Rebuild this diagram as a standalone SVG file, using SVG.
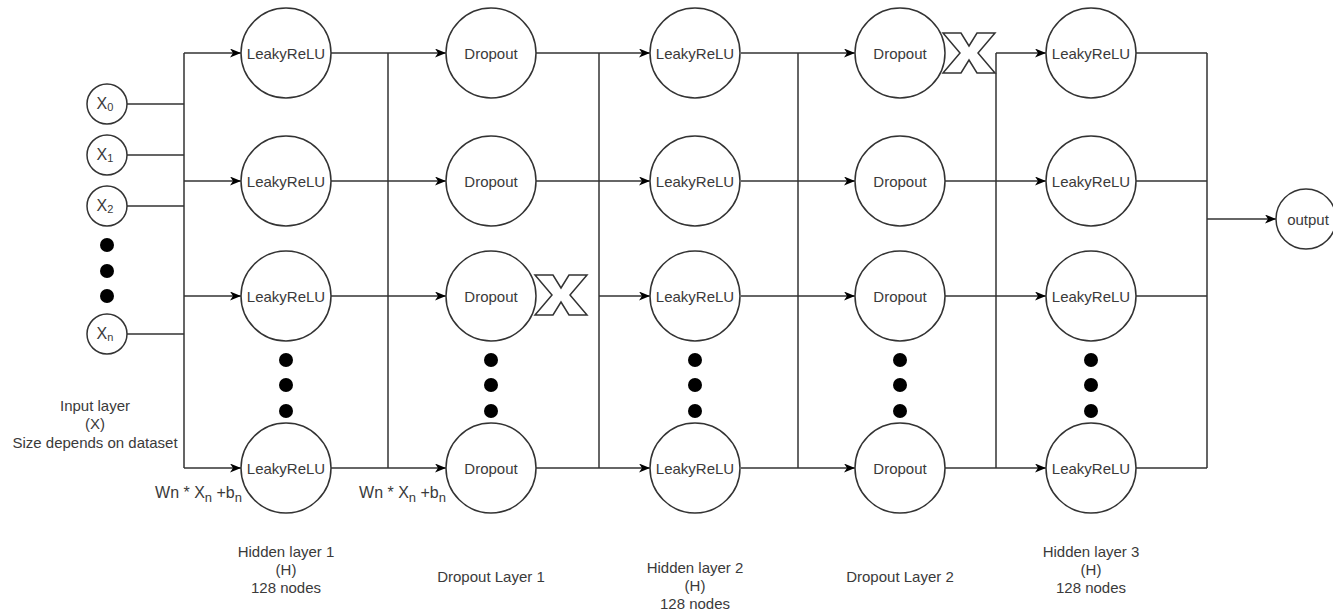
<svg xmlns="http://www.w3.org/2000/svg" width="1333" height="616" viewBox="0 0 1333 616">
  <style>
    .wire { fill: none; stroke: #333; stroke-width: 1.5; }
    .arrow { fill: none; stroke: #333; stroke-width: 1.5; marker-end: url(#head); }
    .node { fill: #fff; stroke: #333; stroke-width: 1.5; }
    .dot { fill: #000; }
    .cross { fill: #fff; stroke: #333; stroke-width: 1.5; stroke-linejoin: miter; }
    text { font-family: "Liberation Sans", Arial, sans-serif; font-size: 15px; fill: #3a3a3a; }
    .c { text-anchor: middle; dominant-baseline: central; }
    .m { text-anchor: middle; }
    .sub { font-size: 11px; }
    .eq { font-size: 16px; }
    .eq .sub { font-size: 13px; }
    .xin { font-size: 16px; }
  </style>
  <defs>
    <marker id="head" markerUnits="userSpaceOnUse" markerWidth="12" markerHeight="10" refX="11" refY="4.5" orient="auto">
      <path d="M0,0 L11,4.5 L0,9 L3,4.5 Z" fill="#000"/>
    </marker>
    <!-- hollow "X" used to mark a dropped connection -->
    <polygon id="xmark" points="0,0 18,0 26,13 34,0 52,0 35,20 52,40 34,40 26,27 18,40 0,40 17,20"/>
    <circle id="hid" r="45"/>
  </defs>

  <!-- connectors -->
  <g id="connectors">
    <!-- inputs to first bus -->
    <path class="wire" d="M127,104 H184 M127,155 H184 M127,206 H184 M127,334 H184 M184,53 V468"/>
    <path class="arrow" d="M184,53 H241"/>
    <path class="arrow" d="M184,181 H241"/>
    <path class="arrow" d="M184,296 H241"/>
    <path class="arrow" d="M184,468 H241"/>

    <!-- hidden layer 1 to dropout layer 1 -->
    <path class="wire" d="M388,53 V468"/>
    <path class="arrow" d="M331,53 H446"/>
    <path class="arrow" d="M331,181 H446"/>
    <path class="arrow" d="M331,296 H446"/>
    <path class="arrow" d="M331,468 H446"/>

    <!-- dropout layer 1 to hidden layer 2 -->
    <path class="wire" d="M599,53 V468"/>
    <path class="arrow" d="M536,53 H650"/>
    <path class="arrow" d="M536,181 H650"/>
    <path class="arrow" d="M599,296 H650"/>
    <path class="arrow" d="M536,468 H650"/>

    <!-- hidden layer 2 to dropout layer 2 -->
    <path class="wire" d="M798,53 V468"/>
    <path class="arrow" d="M741,53 H855"/>
    <path class="arrow" d="M741,181 H855"/>
    <path class="arrow" d="M741,296 H855"/>
    <path class="arrow" d="M741,468 H855"/>

    <!-- dropout layer 2 to hidden layer 3 -->
    <path class="wire" d="M996,53 V468"/>
    <path class="arrow" d="M996,53 H1046"/>
    <path class="arrow" d="M945,181 H1046"/>
    <path class="arrow" d="M945,296 H1046"/>
    <path class="arrow" d="M945,468 H1046"/>

    <!-- hidden layer 3 to output -->
    <path class="wire" d="M1136,53 H1207 M1136,181 H1207 M1136,296 H1207 M1136,468 H1207 M1207,53 V468"/>
    <path class="arrow" d="M1207,219 H1276"/>
  </g>

  <!-- input layer -->
  <g id="input-layer">
    <g id="x0"><circle class="node" cx="107" cy="104" r="20"/><text class="c xin" x="105" y="103">X<tspan class="sub" dy="4">0</tspan></text></g>
    <g id="x1"><circle class="node" cx="107" cy="155" r="20"/><text class="c xin" x="105" y="154">X<tspan class="sub" dy="4">1</tspan></text></g>
    <g id="x2"><circle class="node" cx="107" cy="206" r="20"/><text class="c xin" x="105" y="205">X<tspan class="sub" dy="4">2</tspan></text></g>
    <circle class="dot" cx="107" cy="245" r="7"/>
    <circle class="dot" cx="107" cy="271" r="7"/>
    <circle class="dot" cx="107" cy="296" r="7"/>
    <g id="xn"><circle class="node" cx="107" cy="334" r="20"/><text class="c xin" x="105" y="333">X<tspan class="sub" dy="4">n</tspan></text></g>
  </g>

  <!-- hidden layer 1 -->
  <g id="hidden-1">
    <g id="h1-a"><use href="#hid" class="node" x="286" y="53"/><text class="c" x="286" y="53">LeakyReLU</text></g>
    <g id="h1-b"><use href="#hid" class="node" x="286" y="181"/><text class="c" x="286" y="181">LeakyReLU</text></g>
    <g id="h1-c"><use href="#hid" class="node" x="286" y="296"/><text class="c" x="286" y="296">LeakyReLU</text></g>
    <circle class="dot" cx="286" cy="360" r="7"/>
    <circle class="dot" cx="286" cy="385" r="7"/>
    <circle class="dot" cx="286" cy="411" r="7"/>
    <g id="h1-n"><use href="#hid" class="node" x="286" y="468"/><text class="c" x="286" y="468">LeakyReLU</text></g>
  </g>

  <!-- dropout layer 1 -->
  <g id="dropout-1">
    <g id="d1-a"><use href="#hid" class="node" x="491" y="53"/><text class="c" x="491" y="53">Dropout</text></g>
    <g id="d1-b"><use href="#hid" class="node" x="491" y="181"/><text class="c" x="491" y="181">Dropout</text></g>
    <g id="d1-c"><use href="#hid" class="node" x="491" y="296"/><text class="c" x="491" y="296">Dropout</text></g>
    <use id="d1-cut" href="#xmark" class="cross" x="535" y="275"/>
    <circle class="dot" cx="491" cy="360" r="7"/>
    <circle class="dot" cx="491" cy="385" r="7"/>
    <circle class="dot" cx="491" cy="411" r="7"/>
    <g id="d1-n"><use href="#hid" class="node" x="491" y="468"/><text class="c" x="491" y="468">Dropout</text></g>
  </g>

  <!-- hidden layer 2 -->
  <g id="hidden-2">
    <g id="h2-a"><use href="#hid" class="node" x="695" y="53"/><text class="c" x="695" y="53">LeakyReLU</text></g>
    <g id="h2-b"><use href="#hid" class="node" x="695" y="181"/><text class="c" x="695" y="181">LeakyReLU</text></g>
    <g id="h2-c"><use href="#hid" class="node" x="695" y="296"/><text class="c" x="695" y="296">LeakyReLU</text></g>
    <circle class="dot" cx="695" cy="360" r="7"/>
    <circle class="dot" cx="695" cy="385" r="7"/>
    <circle class="dot" cx="695" cy="411" r="7"/>
    <g id="h2-n"><use href="#hid" class="node" x="695" y="468"/><text class="c" x="695" y="468">LeakyReLU</text></g>
  </g>

  <!-- dropout layer 2 -->
  <g id="dropout-2">
    <g id="d2-a"><use href="#hid" class="node" x="900" y="53"/><text class="c" x="900" y="53">Dropout</text></g>
    <use id="d2-cut" href="#xmark" class="cross" x="943" y="33"/>
    <g id="d2-b"><use href="#hid" class="node" x="900" y="181"/><text class="c" x="900" y="181">Dropout</text></g>
    <g id="d2-c"><use href="#hid" class="node" x="900" y="296"/><text class="c" x="900" y="296">Dropout</text></g>
    <circle class="dot" cx="900" cy="360" r="7"/>
    <circle class="dot" cx="900" cy="385" r="7"/>
    <circle class="dot" cx="900" cy="411" r="7"/>
    <g id="d2-n"><use href="#hid" class="node" x="900" y="468"/><text class="c" x="900" y="468">Dropout</text></g>
  </g>

  <!-- hidden layer 3 -->
  <g id="hidden-3">
    <g id="h3-a"><use href="#hid" class="node" x="1091" y="53"/><text class="c" x="1091" y="53">LeakyReLU</text></g>
    <g id="h3-b"><use href="#hid" class="node" x="1091" y="181"/><text class="c" x="1091" y="181">LeakyReLU</text></g>
    <g id="h3-c"><use href="#hid" class="node" x="1091" y="296"/><text class="c" x="1091" y="296">LeakyReLU</text></g>
    <circle class="dot" cx="1091" cy="360" r="7"/>
    <circle class="dot" cx="1091" cy="385" r="7"/>
    <circle class="dot" cx="1091" cy="411" r="7"/>
    <g id="h3-n"><use href="#hid" class="node" x="1091" y="468"/><text class="c" x="1091" y="468">LeakyReLU</text></g>
  </g>

  <!-- output -->
  <g id="output"><circle class="node" cx="1306" cy="219" r="30"/><text class="c" x="1308" y="219">output</text></g>

  <!-- captions -->
  <g id="captions">
    <text class="m" x="95" y="411">Input layer</text>
    <text class="m" x="95" y="429">(X)</text>
    <text class="m" x="95" y="448">Size depends on dataset</text>

    <text class="eq" x="242" y="498" text-anchor="end">Wn * X<tspan class="sub" dy="4">n</tspan><tspan dy="-4"> +b</tspan><tspan class="sub" dy="4">n</tspan></text>
    <text class="eq" x="446" y="498" text-anchor="end">Wn * X<tspan class="sub" dy="4">n</tspan><tspan dy="-4"> +b</tspan><tspan class="sub" dy="4">n</tspan></text>

    <text class="m" x="286" y="557">Hidden layer 1</text>
    <text class="m" x="286" y="575">(H)</text>
    <text class="m" x="286" y="593">128 nodes</text>

    <text class="m" x="491" y="582">Dropout Layer 1</text>

    <text class="m" x="695" y="573">Hidden layer 2</text>
    <text class="m" x="695" y="591">(H)</text>
    <text class="m" x="695" y="609">128 nodes</text>

    <text class="m" x="900" y="582">Dropout Layer 2</text>

    <text class="m" x="1091" y="557">Hidden layer 3</text>
    <text class="m" x="1091" y="575">(H)</text>
    <text class="m" x="1091" y="593">128 nodes</text>
  </g>
</svg>
